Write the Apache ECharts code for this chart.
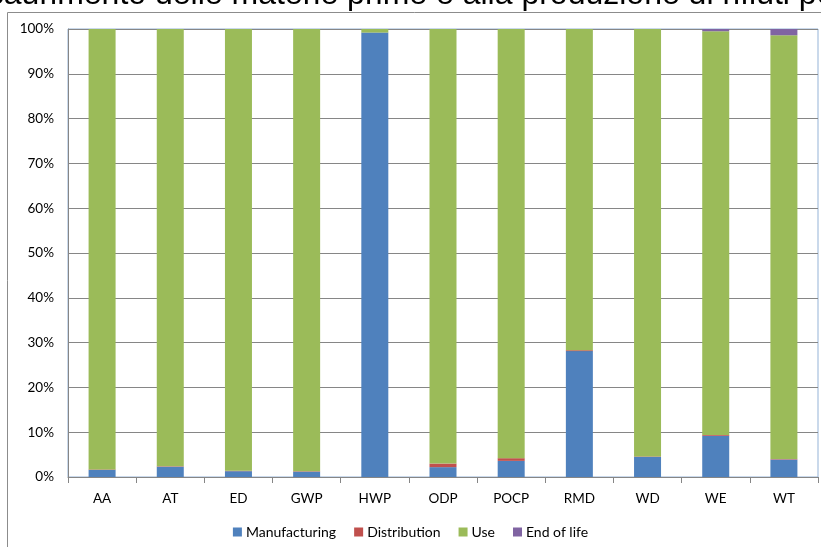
<!DOCTYPE html>
<html>
<head>
<meta charset="utf-8">
<script src="https://cdn.jsdelivr.net/npm/echarts@6/dist/echarts.min.js"></script>
<style>
  html, body { margin: 0; padding: 0; background: #fff; }
  #main { width: 821px; height: 547px; }
</style>
</head>
<body>
<div id="main"></div>
<script>
// categorie d'impatto
const categories = ['AA', 'AT', 'ED', 'GWP', 'HWP', 'ODP', 'POCP', 'RMD', 'WD', 'WE', 'WT']
// quote percentuali per fase del ciclo di vita
const manufacturing = [1.6, 2.3, 1.3, 1.2, 99.2, 2.2, 3.6, 28.1, 4.5, 9.2, 3.9]
const distribution = [0.1, 0.1, 0.1, 0.1, 0.0, 0.8, 0.6, 0.2, 0.1, 0.2, 0.1]
const use = [98.3, 97.6, 98.6, 98.7, 0.8, 97.0, 95.8, 71.7, 95.4, 90.1, 94.6]
const endOfLife = [0.0, 0.0, 0.0, 0.0, 0.0, 0.0, 0.0, 0.0, 0.0, 0.5, 1.4]
const yTicks = [0, 10, 20, 30, 40, 50, 60, 70, 80, 90, 100]

const titleText = "esaurimento delle materie prime e alla produzione di rifiuti pericolosi"
const labelFont = 'Lato, "Open Sans", sans-serif'

const chart = echarts.init(document.getElementById('main'))

function barSeries (name, data, color) {
  return {
    name: name,
    type: 'bar',
    stack: 'tot',
    barWidth: 27,
    itemStyle: { color: color },
    emphasis: { disabled: true },
    data: data
  }
}

const option = {
  animation: false,
  graphic: [
    {
      type: 'rect',
      shape: { x: 7.5, y: 12.5, width: 830, height: 560 },
      style: { fill: 'none', stroke: '#8c8c8c', lineWidth: 1 },
      z: 0
    },
    {
      type: 'text',
      left: -30,
      top: -21,
      style: {
        text: titleText,
        font: '32px "Liberation Sans", Arial, sans-serif',
        fill: '#000'
      },
      z: 10
    }
  ],
  legend: {
    bottom: 3,
    left: 'center',
    itemWidth: 9,
    itemHeight: 9,
    itemGap: 18,
    icon: 'rect',
    textStyle: { fontFamily: labelFont, fontSize: 14, color: '#000', padding: [0, 0, 0, -1] },
    data: ['Manufacturing', 'Distribution', 'Use', 'End of life']
  },
  grid: {
    left: 68,
    right: 3,
    top: 29,
    bottom: 70,
    show: true,
    borderColor: '#95b3d7',
    borderWidth: 1
  },
  xAxis: {
    type: 'category',
    data: categories,
    axisLine: { lineStyle: { color: '#868686' } },
    axisTick: { show: true, length: 6, lineStyle: { color: '#868686' } },
    axisLabel: { fontFamily: labelFont, fontSize: 13.5, color: '#000', margin: 15 }
  },
  yAxis: {
    type: 'value',
    min: yTicks[0],
    max: yTicks[yTicks.length - 1],
    interval: 10,
    axisLine: { show: true, lineStyle: { color: '#868686' } },
    axisTick: { show: false },
    splitLine: { lineStyle: { color: '#868686' } },
    axisLabel: { fontFamily: labelFont, fontSize: 13.5, color: '#000', margin: 14, formatter: '{value}%' }
  },
  series: [
    barSeries('Manufacturing', manufacturing, '#4f81bd'),
    barSeries('Distribution', distribution, '#c0504d'),
    barSeries('Use', use, '#9bbb59'),
    barSeries('End of life', endOfLife, '#8064a2')
  ]
}

chart.setOption(option)
</script>
</body>
</html>
